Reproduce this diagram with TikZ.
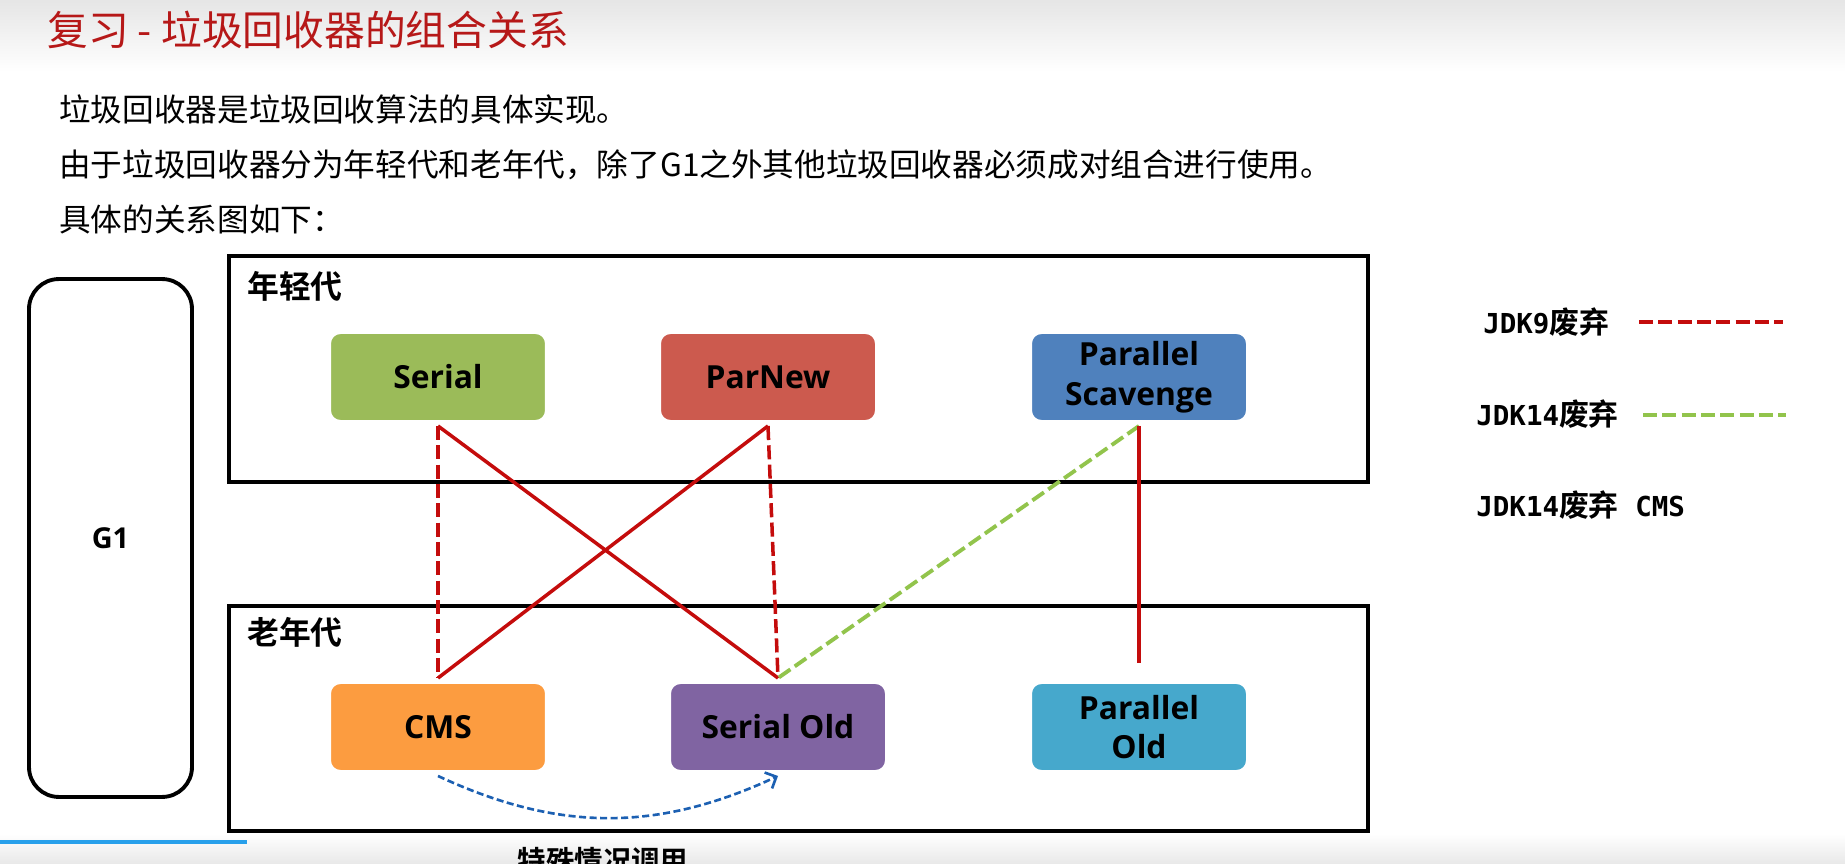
\documentclass[tikz,border=0pt]{standalone}
\usepackage{fontspec}
\setmainfont{Noto Sans CJK SC}[BoldFont={Noto Sans CJK SC Bold}]
\newfontfamily\boxfont{Open Sans}[BoldFont={Open Sans Bold}]
\newfontfamily\legendmono{DejaVu Sans Mono}[Scale=0.92]
\usetikzlibrary{shadows,arrows.meta}
\definecolor{titlered}{RGB}{182,24,24}
\definecolor{linered}{RGB}{196,12,12}
\definecolor{linegreen}{RGB}{146,196,76}
\definecolor{lineblue}{RGB}{28,96,178}
\definecolor{serialgreen}{RGB}{155,187,89}
\definecolor{parnewred}{RGB}{204,90,78}
\definecolor{psblue}{RGB}{79,129,189}
\definecolor{cmsorange}{RGB}{252,156,64}
\definecolor{oldpurple}{RGB}{128,100,162}
\definecolor{poblue}{RGB}{70,168,204}
\definecolor{barblue}{RGB}{40,160,235}
\newcommand{\jdk}[1]{{\legendmono\bfseries JDK#1}废弃}

\begin{document}
\begin{tikzpicture}[
    x=0.02cm, y=-0.02cm,
    txt/.style={anchor=west, inner sep=0pt},
    gc/.style={rectangle, draw=white, line width=3.4pt, rounded corners=7pt, minimum width=4.4cm, minimum height=1.84cm, align=center, text=black, font=\boxfont\bfseries\fontsize{18.1}{22.6}\selectfont, drop shadow={opacity=0.22, shadow xshift=0.6pt, shadow yshift=-1.2pt}},
    genbox/.style={rectangle, draw=black, line width=2.2pt},
    g1box/.style={rectangle, draw=black, line width=2.2pt, rounded corners=17pt, minimum width=3.26cm, minimum height=10.36cm, font=\boxfont\bfseries\fontsize{16.4}{20}\selectfont},
    gen/.style={txt, font=\bfseries\fontsize{18.1}{20}\selectfont},
    pair/.style={draw=linered, line width=2pt},
    jdk9/.style={draw=linered, line width=2pt, dash pattern=on 8pt off 3pt},
    jdk14/.style={draw=linegreen, line width=2.2pt, dash pattern=on 8pt off 3pt},
    special/.style={draw=lineblue, line width=1.5pt, dash pattern=on 4pt off 2pt, -{Straight Barb[length=5pt,width=10pt]}},
    legend/.style={txt, font=\bfseries\fontsize{17}{20}\selectfont}
]
\useasboundingbox (0,0) rectangle (1845,864);
\shade[top color=black!10, bottom color=white] (0,0) rectangle (1845,72);
\shade[top color=white, bottom color=black!9] (0,834) rectangle (1845,864);
\fill[barblue] (0,840) rectangle (247,844);

\node[txt, text=titlered, font=\fontsize{23.2}{28}\selectfont] (title) at (47,30) {复习 - 垃圾回收器的组合关系};
\node[txt, font=\fontsize{18}{21}\selectfont] (intro1) at (59,109) {垃圾回收器是垃圾回收算法的具体实现。};
\node[txt, font=\fontsize{18}{21}\selectfont] (intro2) at (59,165) {由于垃圾回收器分为年轻代和老年代，除了G1之外其他垃圾回收器必须成对组合进行使用。};
\node[txt, font=\fontsize{18}{21}\selectfont] (intro3) at (59,219) {具体的关系图如下：};

\node[g1box] (g1) at (110.5,538) {G1};
\node[genbox, minimum width=22.78cm, minimum height=4.52cm] (young) at (798.5,369) {};
\node[genbox, minimum width=22.78cm, minimum height=4.5cm] (old) at (798.5,718.5) {};
\node[gen] (younglbl) at (247,286) {年轻代};
\node[gen] (oldlbl) at (247,632) {老年代};

\node[gc, fill=serialgreen] (serial) at (438,377) {Serial};
\node[gc, fill=parnewred] (parnew) at (768,377) {ParNew};
\node[gc, fill=psblue] (ps) at (1139,377) {Parallel\\Scavenge};
\node[gc, fill=cmsorange] (cms) at (438,727) {CMS};
\node[gc, fill=oldpurple] (serialold) at (778,727) {Serial Old};
\node[gc, fill=poblue] (po) at (1139,727) {Parallel\\Old};

\draw[jdk9] (serial.south) -- (cms.north);
\draw[pair] (serial.south) -- (serialold.north);
\draw[pair] (parnew.south) -- (cms.north);
\draw[jdk9] (parnew.south) -- (serialold.north);
\draw[jdk14] (ps.south) -- (serialold.north);
\draw[pair, shorten >=0.3cm] (ps.south) -- (po.north);
\draw[special] (cms.south) to[bend right=25] (serialold.south);
\node[txt, anchor=center, font=\bfseries\fontsize{16.2}{19}\selectfont] (speciallbl) at (603,861) {特殊情况调用};

\node[legend] (l9) at (1483,322) {\jdk{9}};
\coordinate (l9a) at (1639,322);
\coordinate (l9b) at (1783,322);
\draw[jdk9] (l9a) -- (l9b);
\node[legend] (l14) at (1476,414) {\jdk{14}};
\coordinate (l14a) at (1643,415);
\coordinate (l14b) at (1786,415);
\draw[jdk14] (l14a) -- (l14b);
\node[legend] (l14cms) at (1476,505) {\jdk{14}{\legendmono\bfseries\ CMS}};
\end{tikzpicture}
\end{document}
